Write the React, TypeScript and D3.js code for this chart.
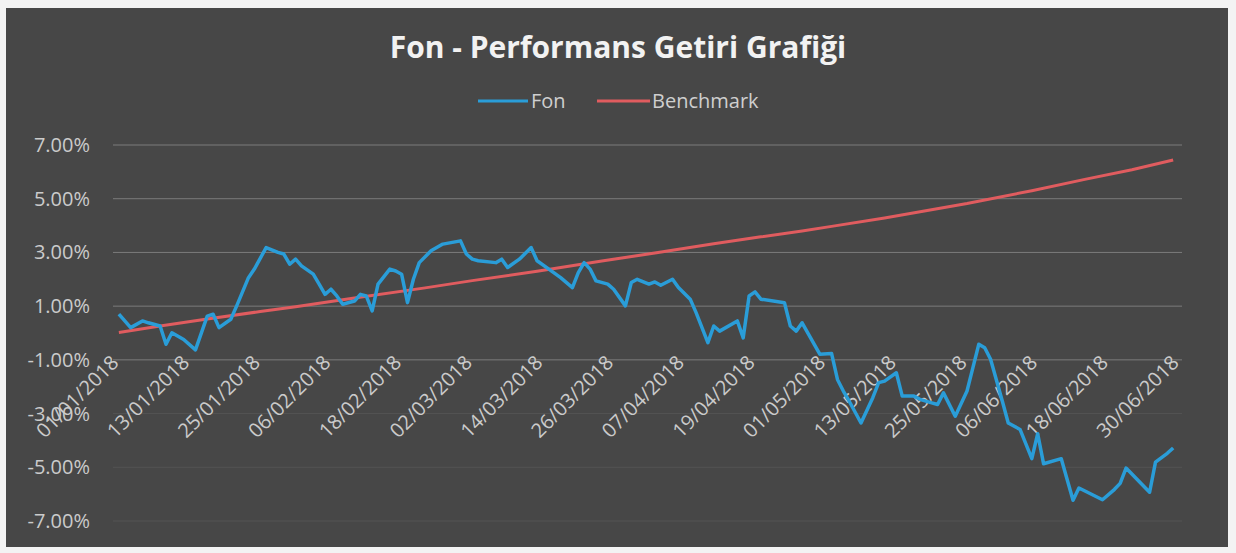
import React from "react";
import * as d3 from "d3";

// ---- data ----
const startDate = "01/01/2018";
// Fon: day offset from 01/01/2018 and return in %
const fonDays = [0, 2, 4, 5, 7, 8, 9, 11, 13, 15, 16, 17, 19, 20, 22, 23, 25, 27, 28, 29, 30, 31, 33, 34, 35, 36, 37, 38, 40, 41, 42, 43, 44, 46, 47, 48, 49, 50, 51, 53, 55, 58, 59, 60, 61, 64, 65, 66, 68, 70, 71, 73, 75, 77, 78, 79, 80, 81, 83, 84, 86, 87, 88, 90, 91, 92, 94, 95, 97, 98, 100, 101, 102, 105, 106, 107, 108, 109, 113, 114, 115, 116, 119, 121, 122, 123, 124, 126, 128, 129, 130, 132, 133, 135, 136, 138, 139, 140, 142, 144, 145, 146, 147, 148, 150, 151, 153, 155, 156, 157, 160, 162, 163, 167, 169, 170, 171, 175, 176, 178, 179];
const fonValues = [0.70, 0.20, 0.45, 0.38, 0.26, -0.42, 0.01, -0.24, -0.63, 0.63, 0.70, 0.20, 0.51, 1.01, 2.06, 2.38, 3.18, 3.00, 2.94, 2.56, 2.75, 2.50, 2.19, 1.82, 1.44, 1.63, 1.38, 1.07, 1.19, 1.44, 1.38, 0.82, 1.82, 2.38, 2.31, 2.19, 1.13, 2.00, 2.62, 3.06, 3.31, 3.43, 2.94, 2.75, 2.69, 2.62, 2.75, 2.44, 2.75, 3.18, 2.69, 2.38, 2.06, 1.69, 2.25, 2.62, 2.38, 1.94, 1.82, 1.63, 1.01, 1.88, 2.00, 1.82, 1.90, 1.78, 2.00, 1.69, 1.26, 0.76, -0.36, 0.26, 0.07, 0.45, -0.18, 1.38, 1.53, 1.26, 1.13, 0.26, 0.07, 0.38, -0.79, -0.76, -1.73, -2.16, -2.54, -3.35, -2.41, -1.85, -1.79, -1.48, -2.35, -2.35, -2.47, -2.60, -2.66, -2.23, -3.10, -2.16, -1.29, -0.42, -0.55, -0.98, -2.54, -3.35, -3.59, -4.68, -3.75, -4.87, -4.68, -6.23, -5.77, -6.21, -5.83, -5.60, -5.03, -5.93, -4.81, -4.48, -4.28];
// Benchmark: day offset and return in %
const benchDays = [0, 7, 15, 24, 30, 40, 52, 60, 71, 82, 91, 101, 109, 116, 121, 130, 144, 155, 164, 172, 179];
const benchValues = [0.02, 0.26, 0.52, 0.80, 0.98, 1.30, 1.68, 1.95, 2.30, 2.68, 2.98, 3.32, 3.58, 3.80, 3.97, 4.28, 4.82, 5.30, 5.72, 6.08, 6.44];

const xTickLabels = ["01/01/2018", "13/01/2018", "25/01/2018", "06/02/2018", "18/02/2018", "02/03/2018", "14/03/2018", "26/03/2018", "07/04/2018", "19/04/2018", "01/05/2018", "13/05/2018", "25/05/2018", "06/06/2018", "18/06/2018", "30/06/2018"];
const yTicks = [7, 5, 3, 1, -1, -3, -5, -7];

const title = "Fon - Performans Getiri Grafiği";
const seriesNames = ["Fon", "Benchmark"];
const seriesColors = ["#2a9dd8", "#e05c5f"];

// ---- chart ----
const W = 1236;
const H = 553;
const FONT = "'Open Sans', 'DejaVu Sans', sans-serif";

const parse = d3.utcParse("%d/%m/%Y");
const start = parse(startDate) as Date;
const dayToDate = (d: number) => d3.utcDay.offset(start, d);

const x = d3
  .scaleUtc()
  .domain([d3.utcDay.offset(start, -1), d3.utcHour.offset(d3.utcDay.offset(start, 180), 12)])
  .range([113, 1182]);
const y = d3.scaleLinear().domain([-7, 7]).range([521, 145]);

const fmt = d3.formatLocale({ decimal: ".", thousands: ",", grouping: [3], currency: ["", ""], minus: "-" }).format(".2f");

type P = { date: Date; v: number };
const fonData: P[] = fonDays.map((d, i) => ({ date: dayToDate(d), v: fonValues[i] }));
const benchData: P[] = benchDays.map((d, i) => ({ date: dayToDate(d), v: benchValues[i] }));

const line = d3
  .line<P>()
  .x((p) => x(p.date))
  .y((p) => y(p.v));

export default function App() {
  return (
    <div style={{ position: "absolute", left: 0, top: 0 }}>
      <svg width={W} height={H} style={{ display: "block" }}>
        <rect x={0} y={0} width={W} height={H} fill="#f3f3f3" />
        <rect x={6} y={8} width={1222} height={539} fill="#474747" />
        <text x={618} y={58} textAnchor="middle" fill="#f2f2f2" fontFamily={FONT} fontWeight={700} fontSize={30}>
          {title}
        </text>
        {/* legend */}
        <g fontFamily={FONT} fontSize={20} fill="#cfcfcf">
          <line x1={478} x2={528} y1={101} y2={101} stroke={seriesColors[0]} strokeWidth={3} />
          <text x={531} y={108}>{seriesNames[0]}</text>
          <line x1={597} x2={650} y1={101} y2={101} stroke={seriesColors[1]} strokeWidth={3} />
          <text x={652} y={108}>{seriesNames[1]}</text>
        </g>
        {/* grid + y labels */}
        <g>
          {yTicks.map((t) => (
            <g key={t}>
              <line
                x1={113}
                x2={1182}
                y1={y(t)}
                y2={y(t)}
                stroke={t >= -1 ? "#7c7c7c" : "#545454"}
                strokeWidth={1}
              />
              <text x={90} y={y(t) + 7} textAnchor="end" fill="#cbcbcb" fontFamily={FONT} fontSize={20}>
                {fmt(t) + "%"}
              </text>
            </g>
          ))}
        </g>
        {/* x labels */}
        <g>
          {xTickLabels.map((s) => {
            const px = x(parse(s) as Date);
            return (
              <text
                key={s}
                transform={`translate(${px + 1},${364}) rotate(-45)`}
                textAnchor="end"
                fill="#cbcbcb"
                fontFamily={FONT}
                fontSize={20}
              >
                {s}
              </text>
            );
          })}
        </g>
        {/* series */}
        <path d={line(benchData) ?? ""} fill="none" stroke={seriesColors[1]} strokeWidth={3} strokeLinejoin="round" />
        <path d={line(fonData) ?? ""} fill="none" stroke={seriesColors[0]} strokeWidth={3.5} strokeLinejoin="round" />
      </svg>
    </div>
  );
}
